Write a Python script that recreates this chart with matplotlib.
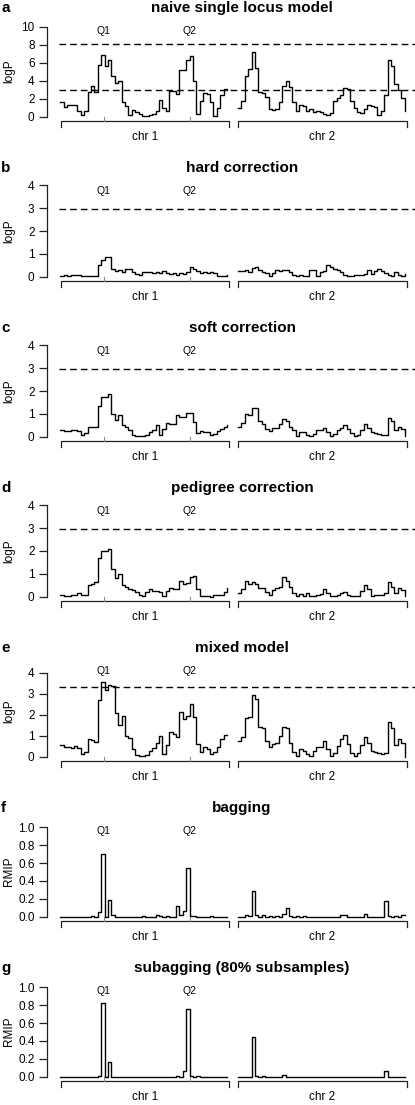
import numpy as np
import matplotlib.pyplot as plt

plt.rcParams['font.family'] = ['Liberation Sans', 'DejaVu Sans']

# marker positions in cM, 50 markers per chromosome
chr1_pos = np.arange(50) * 2.0
chr2_pos = np.arange(50) * 2.0 + 104.5
chr_names = ['chr 1', 'chr 2']
qtl_names = ['Q1', 'Q2']
qtl_pos = [25.5, 76.1]

titles = ['naive single locus model', 'hard correction', 'soft correction',
          'pedigree correction', 'mixed model', 'bagging',
          'subagging (80% subsamples)']
letters = ['a', 'b', 'c', 'd', 'e', 'f', 'g']
ylabels = ['logP'] * 5 + ['RMIP'] * 2
thresholds = [[8.05, 3.0], [2.95], [2.97], [2.98], [3.32], [], []]

naive_1 = [1.6, 1.1, 1.3, 1.3, 1.3, 0.6, 0.25, 0.7, 2.7, 3.4,
           2.8, 5.7, 6.9, 5.6, 6.3, 4.5, 3.7, 4.0, 1.6, 1.2,
           0.15, 0.8, 0.5, 0.35, 0.1, 0.05, 0.2, 0.3, 0.7, 1.9,
           1.0, 0.7, 2.9, 2.9, 2.5, 5.2, 5.2, 6.3, 6.7, 4.0,
           0.3, 1.8, 2.6, 2.5, 1.6, 0.05, 1.0, 2.4, 3.1, 3.0]
naive_2 = [1.0, 1.7, 4.5, 5.3, 7.2, 5.4, 2.8, 2.6, 2.2, 0.9,
           0.8, 0.9, 1.6, 3.4, 4.0, 3.3, 1.6, 0.6, 1.3, 1.2,
           0.6, 0.9, 0.5, 0.7, 0.5, 0.3, 0.2, 0.4, 1.7, 2.1,
           2.4, 3.2, 3.1, 1.7, 1.0, 0.5, 0.4, 0.9, 1.3, 1.2,
           1.1, 0.2, 0.6, 2.4, 6.3, 5.6, 3.6, 3.0, 2.1, 0.6]

hard_1 = [0.05, 0.06, 0.05, 0.08, 0.1, 0.06, 0.02, 0.05, 0.05, 0.04,
          0.05, 0.5, 0.72, 0.88, 0.88, 0.35, 0.25, 0.3, 0.22, 0.35,
          0.33, 0.22, 0.12, 0.08, 0.2, 0.2, 0.2, 0.18, 0.22, 0.15,
          0.25, 0.18, 0.12, 0.18, 0.08, 0.15, 0.14, 0.2, 0.45, 0.35,
          0.25, 0.18, 0.2, 0.15, 0.2, 0.15, 0.05, 0.03, 0.05, 0.1]
hard_2 = [0.25, 0.25, 0.3, 0.22, 0.38, 0.45, 0.3, 0.22, 0.15, 0.05,
          0.15, 0.28, 0.25, 0.3, 0.28, 0.2, 0.1, 0.05, 0.1, 0.05,
          0.03, 0.3, 0.3, 0.03, 0.2, 0.25, 0.5, 0.42, 0.35, 0.3,
          0.22, 0.1, 0.05, 0.03, 0.08, 0.08, 0.08, 0.12, 0.3, 0.12,
          0.25, 0.35, 0.25, 0.15, 0.1, 0.05, 0.2, 0.1, 0.05, 0.12]

soft_1 = [0.32, 0.27, 0.27, 0.28, 0.3, 0.25, 0.1, 0.15, 0.45, 0.42,
          0.42, 1.35, 1.75, 1.75, 1.88, 1.0, 0.75, 0.95, 0.5, 0.45,
          0.3, 0.1, 0.05, 0.03, 0.03, 0.1, 0.2, 0.3, 0.5, 0.08,
          0.35, 0.6, 0.55, 0.55, 0.95, 0.85, 0.85, 1.05, 1.05, 0.65,
          0.15, 0.25, 0.2, 0.2, 0.08, 0.12, 0.25, 0.35, 0.45, 0.5]
soft_2 = [0.42, 0.6, 1.0, 0.95, 1.25, 1.28, 0.7, 0.55, 0.35, 0.25,
          0.38, 0.38, 0.55, 0.8, 0.7, 0.45, 0.3, 0.05, 0.22, 0.2,
          0.1, 0.05, 0.12, 0.28, 0.3, 0.4, 0.2, 0.05, 0.12, 0.3,
          0.38, 0.5, 0.35, 0.15, 0.05, 0.1, 0.3, 0.55, 0.4, 0.2,
          0.15, 0.12, 0.1, 0.1, 0.82, 0.7, 0.3, 0.45, 0.35, 0.02]

ped_1 = [0.08, 0.03, 0.04, 0.06, 0.1, 0.15, 0.08, 0.1, 0.5, 0.55,
         0.65, 1.7, 2.0, 2.02, 2.1, 1.2, 0.8, 1.0, 0.5, 0.45,
         0.35, 0.28, 0.22, 0.1, 0.05, 0.2, 0.35, 0.25, 0.25, 0.22,
         0.05, 0.25, 0.4, 0.35, 0.33, 0.68, 0.55, 0.6, 0.85, 0.9,
         0.35, 0.05, 0.05, 0.03, 0.01, 0.1, 0.08, 0.1, 0.2, 0.38]
ped_2 = [0.18, 0.35, 0.68, 0.58, 0.65, 0.58, 0.38, 0.38, 0.22, 0.08,
         0.3, 0.4, 0.45, 0.85, 0.7, 0.45, 0.15, 0.05, 0.12, 0.05,
         0.18, 0.02, 0.05, 0.1, 0.12, 0.35, 0.18, 0.02, 0.05, 0.1,
         0.15, 0.22, 0.1, 0.05, 0.05, 0.05, 0.25, 0.5, 0.35, 0.05,
         0.08, 0.1, 0.1, 0.15, 0.65, 0.45, 0.18, 0.38, 0.3, 0.02]

mixed_1 = [0.55, 0.45, 0.45, 0.42, 0.5, 0.4, 0.15, 0.25, 0.85, 0.8,
           0.72, 2.7, 3.55, 3.2, 3.4, 3.35, 2.1, 1.5, 1.95, 1.0,
           0.9, 0.35, 0.08, 0.05, 0.03, 0.08, 0.3, 0.4, 0.65, 1.0,
           0.15, 0.55, 1.2, 1.1, 0.95, 2.15, 1.8, 1.95, 2.5, 1.9,
           0.6, 0.25, 0.45, 0.35, 0.15, 0.25, 0.45, 0.85, 1.05, 1.05]
mixed_2 = [0.75, 0.95, 1.85, 1.9, 2.95, 2.75, 1.4, 1.35, 0.75, 0.45,
           0.62, 0.65, 1.0, 1.4, 1.35, 0.65, 0.25, 0.05, 0.35, 0.3,
           0.15, 0.05, 0.3, 0.45, 0.45, 0.75, 0.35, 0.05, 0.2, 0.5,
           0.85, 1.05, 0.6, 0.2, 0.02, 0.2, 0.55, 0.95, 0.65, 0.3,
           0.25, 0.2, 0.15, 0.2, 1.65, 1.35, 0.55, 0.85, 0.65, 0.0]

bag_1 = [0, 0, 0, 0, 0, 0, 0, 0, 0, 0.01,
         0, 0.05, 0.7, 0, 0.19, 0.02, 0, 0, 0, 0,
         0, 0, 0, 0, 0.01, 0, 0, 0, 0.02, 0.01,
         0, 0.01, 0, 0, 0.12, 0.02, 0.07, 0.54, 0.01, 0.01,
         0, 0, 0, 0, 0.01, 0, 0, 0, 0, 0]
bag_2 = [0, 0, 0.02, 0.01, 0.29, 0.02, 0, 0.02, 0, 0.01,
         0, 0.01, 0, 0.03, 0.1, 0.01, 0, 0.01, 0, 0.01,
         0, 0, 0, 0, 0, 0, 0, 0, 0, 0,
         0.02, 0.02, 0, 0, 0, 0, 0, 0.03, 0, 0,
         0, 0, 0, 0.18, 0.01, 0, 0.01, 0, 0.02, 0.02]

subag_1 = [0, 0, 0, 0, 0, 0, 0, 0, 0, 0,
           0, 0.01, 0.82, 0, 0.17, 0, 0, 0, 0, 0,
           0, 0, 0, 0, 0, 0, 0, 0, 0, 0,
           0, 0, 0, 0, 0.01, 0, 0.07, 0.76, 0.01, 0,
           0.01, 0, 0, 0, 0, 0, 0, 0, 0, 0]
subag_2 = [0, 0, 0, 0, 0.44, 0.01, 0, 0.01, 0, 0,
           0, 0, 0, 0.02, 0, 0, 0, 0, 0, 0,
           0, 0, 0, 0, 0, 0, 0, 0, 0, 0,
           0, 0, 0, 0, 0, 0, 0, 0, 0, 0,
           0, 0, 0, 0.06, 0, 0, 0, 0, 0, 0]

series = [(naive_1, naive_2), (hard_1, hard_2), (soft_1, soft_2),
          (ped_1, ped_2), (mixed_1, mixed_2), (bag_1, bag_2),
          (subag_1, subag_2)]

yticks = [np.arange(0, 11, 2), np.arange(0, 5), np.arange(0, 5), np.arange(0, 5),
          np.arange(0, 5), np.linspace(0, 1, 6), np.linspace(0, 1, 6)]
ytops = [10.15, 4.0, 4.0, 4.0, 4.36, 1.023, 1.023]

# layout in pixels
W, H = 415, 1105
left_px, right_px = 47, 415
ph = 99.0
xlo, xhi = -7.84, 208.6
brackets = [(0.4, 99.2), (104.5, 203.9)]
axcol = '#222222'

fig = plt.figure(figsize=(W / 100, H / 100), dpi=100)

for k in range(7):
    B = 120.5 + 160 * k
    ax = fig.add_axes([left_px / W, 1 - B / H, (right_px - left_px) / W, ph / H])
    L = ytops[k]
    ax.set_xlim(xlo, xhi)
    ax.set_ylim(-0.04 * L, 1.04 * L)
    ax.patch.set_visible(False)

    for pos, vals in zip([chr1_pos, chr2_pos], series[k]):
        ax.plot(pos, vals, drawstyle='steps-post', color='black', lw=1.0)

    for t in thresholds[k]:
        ax.plot([-1.0, xhi], [t, t], color='black', lw=1.0, ls=(0, (4.8, 2.9)),
                clip_on=False)

    # y axis, R style
    for s in ['top', 'right', 'bottom']:
        ax.spines[s].set_visible(False)
    ax.spines['left'].set_bounds(yticks[k][0], yticks[k][-1])
    ax.spines['left'].set_color(axcol)
    ax.spines['left'].set_linewidth(0.9)
    ax.set_yticks(yticks[k])
    ax.tick_params(axis='y', direction='out', length=5.5, width=0.9, pad=3.5,
                   labelsize=8.5, color=axcol)
    ax.set_xticks([])

    # chromosome brackets on the x axis
    tr = ax.get_xaxis_transform()
    for (x0, x1), name in zip(brackets, chr_names):
        ax.plot([x0, x0, x1, x1], [-6 / ph, 0, 0, -6 / ph], color=axcol, lw=0.9,
                transform=tr, clip_on=False)
        ax.text((x0 + x1) / 2, -16.5 / ph, name, transform=tr, ha='center',
                va='center', fontsize=8.5)

    for q, qn in zip(qtl_pos, qtl_names):
        ax.plot([q, q], [0, 3.5 / ph], color='#888888', lw=0.8, transform=tr,
                clip_on=False)
        ax.text(q, 89 / ph, qn, transform=tr, ha='center', va='center', fontsize=7.5)

    fig.text(242 / W, 1 - (B - 112.5) / H, titles[k], ha='center', va='center',
             fontsize=11, fontweight='bold')
    fig.text(1 / W, 1 - (B - 112.5) / H, letters[k], ha='left', va='center',
             fontsize=11, fontweight='bold')
    fig.text(9 / W, 1 - (B - 49.5) / H, ylabels[k], rotation=90, ha='center',
             va='center', fontsize=8.5)

fig.savefig('out.png', dpi=100)
